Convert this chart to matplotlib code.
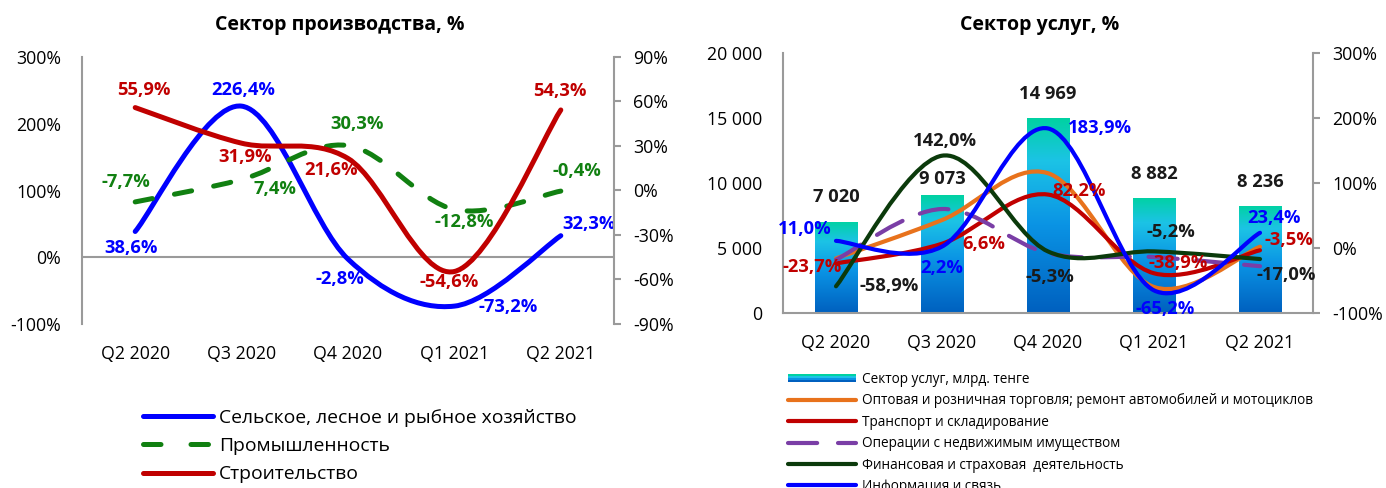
import numpy as np
import matplotlib
matplotlib.use('Agg')
import matplotlib.pyplot as plt
from matplotlib.path import Path
from matplotlib.patches import PathPatch, Rectangle
from matplotlib.lines import Line2D
from matplotlib.legend_handler import HandlerBase
from matplotlib.colors import LinearSegmentedColormap
from matplotlib.ticker import FuncFormatter, FixedLocator

plt.rcParams['font.family'] = ['Open Sans', 'DejaVu Sans']

# ---- data ----
quarters = ['Q2 2020', 'Q3 2020', 'Q4 2020', 'Q1 2021', 'Q2 2021']

# production sector, % (agri on left axis, others on right axis)
agri = [38.6, 226.4, -2.8, -73.2, 32.3]
industry = [-7.7, 7.4, 30.3, -12.8, -0.4]
construction = [55.9, 31.9, 21.6, -54.6, 54.3]

# services sector
services = [7020, 9073, 14969, 8882, 8236]   # bln tenge
trade = [-16.0, 43.0, 115.0, -60.0, 2.0]      # no labels
transport = [-23.7, 6.6, 82.2, -38.9, -3.5]
realestate = [-18.0, 60.0, -8.0, -14.0, -28.0]  # no labels
finance = [-58.9, 142.0, -5.3, -5.2, -17.0]
ict = [11.0, 2.2, 183.9, -65.2, 23.4]

W, H = 1386, 488
fig = plt.figure(figsize=(W / 100, H / 100), dpi=100)

GRAY = '#9a9a9a'
FS = 12.8


def smooth_path(x, y):
    # excel-like smoothed line: catmull-rom as cubic bezier
    pts = np.column_stack([x, y]).astype(float)
    n = len(pts)
    verts = [pts[0]]
    codes = [Path.MOVETO]
    for i in range(n - 1):
        p0 = pts[max(i - 1, 0)]
        p1 = pts[i]
        p2 = pts[i + 1]
        p3 = pts[min(i + 2, n - 1)]
        verts += [p1 + (p2 - p0) / 6, p2 - (p3 - p1) / 6, p2]
        codes += [Path.CURVE4] * 3
    return Path(verts, codes)


def draw_line(ax, y, color, lw, ls='-'):
    x = np.arange(len(y))
    ax.add_patch(PathPatch(smooth_path(x, y), fill=False, edgecolor=color, lw=lw,
                           linestyle=ls, capstyle='round', joinstyle='round', zorder=3))


def pct(v):
    return ('%.1f%%' % v).replace('.', ',')


def label(ax, i, v, txt, color, off):
    ax.annotate(txt, (i, v), xytext=off, textcoords='offset pixels', ha='center', va='center',
                color=color, fontsize=FS + 0.4, fontweight='bold', zorder=6)


def axes_px(x0, y0, x1, y1):
    return fig.add_axes([x0 / W, 1 - y1 / H, (x1 - x0) / W, (y1 - y0) / H])


# ================= left chart =================
ax = axes_px(82, 57, 614, 324)
ax2 = ax.twinx()
x = np.arange(len(quarters))
ax.set_xlim(-0.5, 4.5)
ax.set_ylim(-100, 300)
ax2.set_ylim(-90, 90)
ax.yaxis.set_major_locator(FixedLocator([-100, 0, 100, 200, 300]))
ax2.yaxis.set_major_locator(FixedLocator([-90, -60, -30, 0, 30, 60, 90]))
ax.yaxis.set_major_formatter(FuncFormatter(lambda v, p: '%d%%' % v))
ax2.yaxis.set_major_formatter(FuncFormatter(lambda v, p: '%d%%' % v))
ax.set_xticks(x)
ax.set_xticklabels(quarters)
for a in (ax, ax2):
    for s in a.spines.values():
        s.set_visible(False)
ax.spines['left'].set_visible(True)
ax.spines['left'].set_color(GRAY)
ax.spines['left'].set_linewidth(1.5)
ax2.spines['right'].set_visible(True)
ax2.spines['right'].set_color(GRAY)
ax2.spines['right'].set_linewidth(1.5)
ax.axhline(0, color=GRAY, lw=1.5, zorder=1)
ax.tick_params(axis='x', length=0, pad=15, labelsize=FS)
ax.tick_params(axis='y', length=0, pad=15, labelsize=FS)
ax2.tick_params(axis='y', length=5, width=1.5, color=GRAY, pad=9, labelsize=FS)

draw_line(ax, agri, '#0000ff', 3.6)
draw_line(ax2, industry, '#118011', 3.6, (0, (3.5, 4.5)))
draw_line(ax2, construction, '#c00000', 3.6)

agri_off = [(-4, -17), (2, 16), (-8, -20), (54, -1), (28, 12)]
ind_off = [(-9, 20), (33, -9), (9, 22), (10, -13), (16, 20)]
con_off = [(9, 18), (4, -14), (-17, -12), (-5, -11), (-1, 19)]
for i in range(5):
    label(ax, i, agri[i], pct(agri[i]), '#0000ff', agri_off[i])
    label(ax2, i, industry[i], pct(industry[i]), '#118011', ind_off[i])
    label(ax2, i, construction[i], pct(construction[i]), '#c00000', con_off[i])

fig.text(340 / W, 1 - 25 / H, 'Сектор производства, %', ha='center', va='center',
         fontsize=14, fontweight='bold')

lh = [Line2D([], [], color='#0000ff', lw=3.6, solid_capstyle='round'),
      Line2D([], [], color='#118011', lw=3.6, ls=(0, (3.5, 6)), dash_capstyle='round'),
      Line2D([], [], color='#c00000', lw=3.6, solid_capstyle='round')]
fig.legend(lh, ['Сельское, лесное и рыбное хозяйство', 'Промышленность', 'Строительство'],
           loc='upper left', bbox_to_anchor=(143 / W, 1 - 409 / H), frameon=False,
           fontsize=13.9, handlelength=3.65, handletextpad=0.3, labelspacing=0.53,
           borderpad=0, borderaxespad=0)

# ================= right chart =================
bx = axes_px(783, 53, 1313, 313)
bx2 = bx.twinx()
bx.set_xlim(-0.5, 4.5)
bx.set_ylim(0, 20000)
bx2.set_ylim(-100, 300)
bx.yaxis.set_major_locator(FixedLocator([0, 5000, 10000, 15000, 20000]))
bx2.yaxis.set_major_locator(FixedLocator([-100, 0, 100, 200, 300]))
bx.yaxis.set_major_formatter(FuncFormatter(lambda v, p: '{:,.0f}'.format(v).replace(',', ' ')))
bx2.yaxis.set_major_formatter(FuncFormatter(lambda v, p: '%d%%' % v))
bx.set_xticks(x)
bx.set_xticklabels(quarters)
for a in (bx, bx2):
    for s in a.spines.values():
        s.set_visible(False)
for s in ('left', 'bottom'):
    bx.spines[s].set_visible(True)
    bx.spines[s].set_color(GRAY)
    bx.spines[s].set_linewidth(1.5)
bx2.spines['right'].set_visible(True)
bx2.spines['right'].set_color(GRAY)
bx2.spines['right'].set_linewidth(1.5)
bx.tick_params(axis='x', length=0, pad=15, labelsize=FS)
bx.tick_params(axis='y', length=0, pad=15, labelsize=FS)
bx2.tick_params(axis='y', length=5, width=1.5, color=GRAY, pad=9, labelsize=FS)

grad_cols = ['#0060bf', '#0a93e4', '#1cc3e6', '#00d2a2']
cmap = LinearSegmentedColormap.from_list('svc', list(zip([0, 0.45, 0.78, 1.0], grad_cols)))
bars = bx.bar(x, services, width=0.4, color='none', zorder=2)
for b in bars:
    x0, y0 = b.get_x(), b.get_y()
    im = bx.imshow(np.linspace(0, 1, 256).reshape(-1, 1), cmap=cmap, origin='lower',
                   aspect='auto', extent=(x0, x0 + b.get_width(), y0, y0 + b.get_height()),
                   zorder=2)
    im.set_clip_path(b)
bx.set_xlim(-0.5, 4.5)
bx.set_ylim(0, 20000)

svc_off = [25, 16, 24, 24, 24]
for i, v in enumerate(services):
    bx.annotate('{:,}'.format(v).replace(',', ' '), (i, v), xytext=(0, svc_off[i]),
                textcoords='offset pixels', ha='center', va='center', fontsize=FS + 0.4,
                fontweight='bold', color='#1a1a1a', zorder=6)

draw_line(bx2, trade, '#e8721c', 3.0)
draw_line(bx2, transport, '#c00000', 3.0)
draw_line(bx2, realestate, '#7a3ea6', 3.0, (0, (7, 4.5)))
draw_line(bx2, finance, '#0b3a0b', 3.0)
draw_line(bx2, ict, '#0000ff', 3.0)

tr_off = [(-24, -4), (42, 0), (31, 4), (24, 10), (29, 10)]
fin_off = [(53, 0), (3, 15), (2, -26), (17, 19), (26, -16)]
ict_off = [(-31, 12), (0, -21), (52, 0), (11, -19), (14, 15)]
for i in range(5):
    label(bx2, i, transport[i], pct(transport[i]), '#c00000', tr_off[i])
    label(bx2, i, finance[i], pct(finance[i]), '#1a1a1a', fin_off[i])
    label(bx2, i, ict[i], pct(ict[i]), '#0000ff', ict_off[i])

fig.text(1040 / W, 1 - 25 / H, 'Сектор услуг, %', ha='center', va='center',
         fontsize=14, fontweight='bold')


class GradHandler(HandlerBase):
    def create_artists(self, legend, orig_handle, xd, yd, width, height, fontsize, trans):
        hh = height * 0.85
        y0 = -yd + (height - hh) / 2
        n = len(grad_cols)
        arts = []
        for k, c in enumerate(grad_cols):
            arts.append(Rectangle((-xd, y0 + k * hh / n), width, hh / n, facecolor=c,
                                  edgecolor='none', transform=trans))
        return arts


bar_proxy = Rectangle((0, 0), 1, 1)
rh = [bar_proxy,
      Line2D([], [], color='#e8721c', lw=3.0, solid_capstyle='round'),
      Line2D([], [], color='#c00000', lw=3.0, solid_capstyle='round'),
      Line2D([], [], color='#7a3ea6', lw=3.0, ls=(0, (7, 5)), dash_capstyle='round'),
      Line2D([], [], color='#0b3a0b', lw=3.0, solid_capstyle='round'),
      Line2D([], [], color='#0000ff', lw=3.0, solid_capstyle='round')]
rl = ['Сектор услуг, млрд. тенге',
      'Оптовая и розничная торговля; ремонт автомобилей и мотоциклов',
      'Транспорт и складирование',
      'Операции с недвижимым имуществом',
      'Финансовая и страховая  деятельность',
      'Информация и связь']
fig.legend(rh, rl, loc='upper left', bbox_to_anchor=(788 / W, 1 - 372 / H), frameon=False,
           fontsize=9.85, handlelength=5.0, handletextpad=0.4, labelspacing=0.47,
           borderpad=0, borderaxespad=0, handler_map={bar_proxy: GradHandler()})

fig.savefig('out.png', dpi=100)
